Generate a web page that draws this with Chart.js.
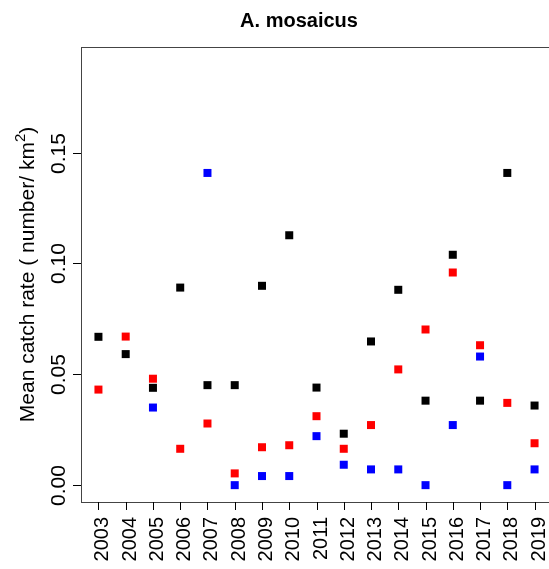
<!DOCTYPE html>
<html lang="en">
<head>
    <meta charset="UTF-8">
    <title>A. mosaicus</title>
    <style>
        html, body {
            margin: 0;
            padding: 0;
            background: #fff;
            overflow: hidden;
        }
        #chartBox {
            width: 560px;
            height: 569px;
        }
    </style>
    <script src="https://cdn.jsdelivr.net/npm/chart.js"></script>
</head>
<body>
    <div id="chartBox">
        <canvas id="myChart"></canvas>
    </div>

    <script>
        // data
        const years = [2003, 2004, 2005, 2006, 2007, 2008, 2009, 2010, 2011, 2012, 2013, 2014, 2015, 2016, 2017, 2018, 2019];
        const blackSeries = [0.0669, 0.0591, 0.0439, 0.0891, 0.0451, 0.0451, 0.0899, 0.1127, 0.0440, 0.0232, 0.0648, 0.0881, 0.0381, 0.1039, 0.0381, 0.1408, 0.0359];
        const redSeries = [0.0431, 0.0670, 0.0480, 0.0164, 0.0278, 0.0053, 0.0171, 0.0180, 0.0311, 0.0164, 0.0271, 0.0522, 0.0702, 0.0959, 0.0631, 0.0371, 0.0189];
        const blueSeries = [null, null, 0.0350, null, 0.1408, 0.0000, 0.0041, 0.0041, 0.0221, 0.0092, 0.0071, 0.0071, 0.0000, 0.0271, 0.0580, 0.0000, 0.0071];
        const yTicks = [0, 0.05, 0.10, 0.15];
        const yTickLabels = ["0.00", "0.05", "0.10", "0.15"];

        const font = '"Liberation Sans", Arial, sans-serif';

        function toPoints(values) {
            const pts = [];
            values.forEach((v, i) => {
                if (v !== null) pts.push({ x: years[i], y: v });
            });
            return pts;
        }

        function makeSet(values, color) {
            return {
                data: toPoints(values),
                pointStyle: 'rect',
                pointRadius: 5.66,
                pointBorderWidth: 0,
                backgroundColor: color,
                borderColor: color,
                showLine: false
            };
        }

        // draws the R-style box, ticks and all the text
        const rAxes = {
            id: 'rAxes',
            afterDraw(chart) {
                const ctx = chart.ctx;
                const xs = chart.scales.x;
                const ys = chart.scales.y;
                const area = chart.chartArea;

                ctx.save();
                // box
                ctx.strokeStyle = '#444';
                ctx.lineWidth = 1;
                ctx.strokeRect(Math.round(area.left) + 0.5, Math.round(area.top) + 0.5,
                    Math.round(area.right - area.left), Math.round(area.bottom - area.top));

                // x ticks + labels
                ctx.strokeStyle = '#000';
                ctx.fillStyle = '#000';
                ctx.font = '20px ' + font;
                years.forEach(yr => {
                    const px = Math.round(xs.getPixelForValue(yr)) + 0.5;
                    ctx.beginPath();
                    ctx.moveTo(px, area.bottom);
                    ctx.lineTo(px, area.bottom + 8);
                    ctx.stroke();
                    ctx.save();
                    ctx.translate(px + 9.5, area.bottom + 15);
                    ctx.rotate(-Math.PI / 2);
                    ctx.textAlign = 'right';
                    ctx.textBaseline = 'alphabetic';
                    ctx.fillText(String(yr), 0, 0);
                    ctx.restore();
                });

                // y ticks + labels
                ctx.font = '21px ' + font;
                yTicks.forEach((v, i) => {
                    const py = Math.round(ys.getPixelForValue(v)) + 0.5;
                    ctx.beginPath();
                    ctx.moveTo(area.left, py);
                    ctx.lineTo(area.left - 8, py);
                    ctx.stroke();
                    ctx.save();
                    ctx.translate(65, py);
                    ctx.rotate(-Math.PI / 2);
                    ctx.textAlign = 'center';
                    ctx.textBaseline = 'alphabetic';
                    ctx.fillText(yTickLabels[i], 0, 0);
                    ctx.restore();
                });

                // y axis title with superscript
                const mainTxt = 'Mean catch rate ( number/ km';
                ctx.font = '21px ' + font;
                const w1 = ctx.measureText(mainTxt).width;
                const w3 = ctx.measureText(')').width;
                ctx.font = '15px ' + font;
                const w2 = ctx.measureText('2').width;
                const total = w1 + w2 + w3;
                const cy = (area.top + area.bottom) / 2;
                ctx.save();
                ctx.translate(34, cy);
                ctx.rotate(-Math.PI / 2);
                ctx.textAlign = 'left';
                ctx.textBaseline = 'alphabetic';
                ctx.font = '21px ' + font;
                ctx.fillText(mainTxt, -total / 2, 0);
                ctx.font = '15px ' + font;
                ctx.fillText('2', -total / 2 + w1, -9);
                ctx.font = '21px ' + font;
                ctx.fillText(')', -total / 2 + w1 + w2, 0);
                ctx.restore();

                // title
                ctx.font = 'bold 20px ' + font;
                ctx.textAlign = 'center';
                ctx.textBaseline = 'alphabetic';
                ctx.fillText('A. mosaicus', 299, 27);
                ctx.restore();
            }
        };

        const ctx = document.getElementById('myChart').getContext('2d');
        const myChart = new Chart(ctx, {
            type: 'scatter',
            data: {
                datasets: [
                    makeSet(blackSeries, '#000000'),
                    makeSet(redSeries, '#ff0000'),
                    makeSet(blueSeries, '#0000ff')
                ]
            },
            options: {
                responsive: true,
                maintainAspectRatio: false,
                animation: false,
                events: [],
                layout: {
                    padding: { left: 81, top: 47, right: 8, bottom: 67 }
                },
                plugins: {
                    legend: { display: false },
                    tooltip: { enabled: false }
                },
                scales: {
                    x: { type: 'linear', min: 2002.36, max: 2019.64, display: false },
                    y: { type: 'linear', min: -0.0076, max: 0.1976, display: false }
                }
            },
            plugins: [rAxes]
        });
    </script>
</body>
</html>
